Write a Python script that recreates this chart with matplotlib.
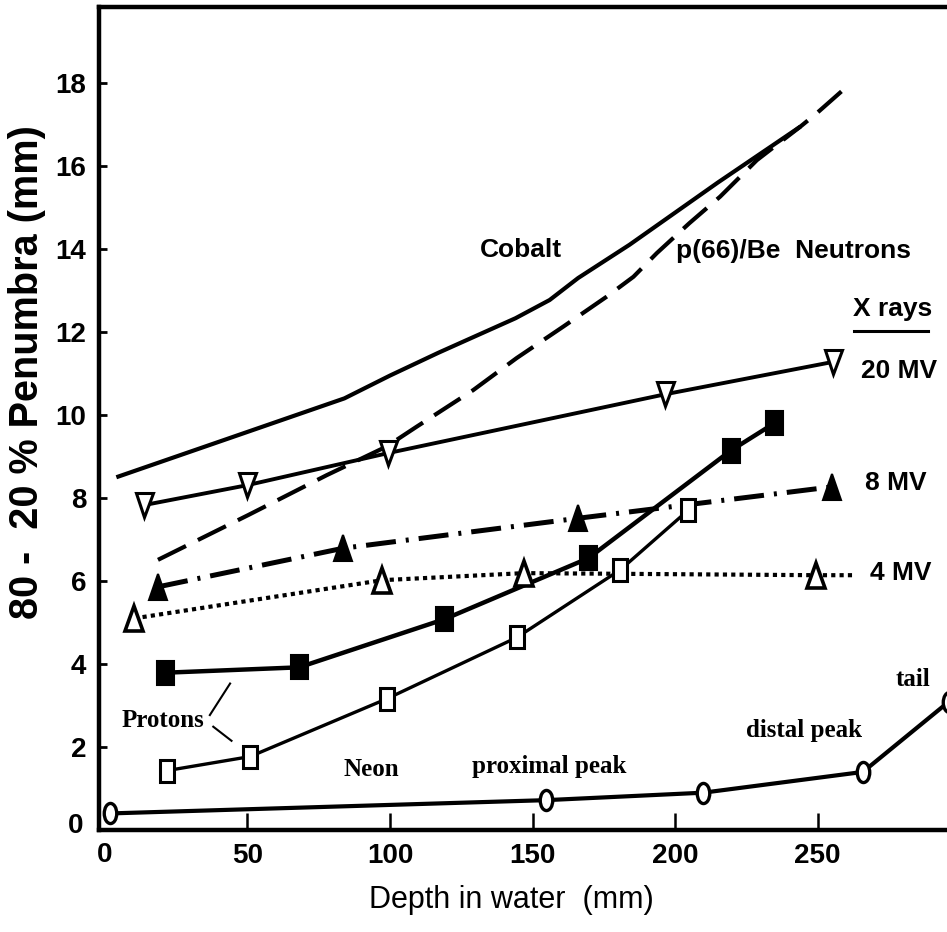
import numpy as np
import matplotlib
matplotlib.use("Agg")
import matplotlib.pyplot as plt
from matplotlib import font_manager
from matplotlib.markers import MarkerStyle
from matplotlib.transforms import Affine2D

# fonts: narrow sans if we have it, else regular
names = {f.name for f in font_manager.fontManager.ttflist}
SANS = 'Liberation Sans Narrow' if 'Liberation Sans Narrow' in names else 'Liberation Sans'
SERIF = 'Liberation Serif'

# ---- data (depth mm, penumbra mm) ----
cobalt_x = [4, 84, 100, 117, 130, 144, 156, 166, 184, 215, 244]
cobalt_y = [8.5, 10.4, 10.95, 11.5, 11.9, 12.33, 12.77, 13.3, 14.1, 15.6, 16.95]

neutron_x = [18.6, 50.3, 77.8, 98.8, 109.4, 129.2, 144.4, 160.8, 176, 185.4,
             193.6, 205, 215.8, 228.7, 244, 249.7, 259.6]
neutron_y = [6.51, 7.59, 8.55, 9.24, 9.72, 10.6, 11.37, 12.13, 12.85, 13.33,
             13.9, 14.62, 15.26, 16.14, 16.95, 17.27, 17.87]

mv20_x = [13.8, 50.0, 99.2, 196.6, 255.5]
mv20_y = [7.83, 8.31, 9.08, 10.5, 11.28]

mv8_x = [18.7, 83.6, 165.8, 255.2]
mv8_y = [5.86, 6.79, 7.51, 8.27]

mv4_x = [10.3, 97.3, 147.0, 249.5]
mv4_y = [5.10, 6.02, 6.19, 6.14]
mv4_line_end = (262.5, 6.14)   # dotted line runs past the last point

prot_a_x = [21.0, 68.1, 119.1, 169.6, 219.5, 234.8]
prot_a_y = [3.79, 3.92, 5.08, 6.55, 9.14, 9.80]

prot_b_x = [21.6, 50.9, 98.8, 144.5, 180.8, 204.7]
prot_b_y = [1.43, 1.77, 3.16, 4.64, 6.27, 7.71]

neon_x = [1.8, 154.7, 209.9, 265.9, 296.0]
neon_y = [0.40, 0.72, 0.90, 1.40, 3.09]

x_ticks = [50, 100, 150, 200, 250]
x_ticklabels = ['50', '100', '150', '200', '250']
y_ticks = [2, 4, 6, 8, 10, 12, 14, 16, 18]

fig = plt.figure(figsize=(9.47, 9.32), dpi=100)
ax = fig.add_axes([0.1045, 0.1094, 0.8955, 0.8831])
ax.set_xlim(-2.1, 295.4)
ax.set_ylim(0, 19.83)


def squish(m, sx):
    # the original scan is squeezed horizontally, so markers are narrow
    return MarkerStyle(m, transform=Affine2D().scale(sx, 1.0))


# curves without markers
ax.plot(cobalt_x, cobalt_y, color='black', lw=3.0, solid_capstyle='butt')
ax.plot(neutron_x, neutron_y, color='black', lw=3.0, linestyle=(0, (7.5, 3.2)))

# x-ray lines
ax.plot(mv20_x, mv20_y, color='black', lw=2.8, zorder=2)
ax.plot(mv20_x, mv20_y, linestyle='none', marker=squish('v', 0.72), ms=17,
        mfc='white', mec='black', mew=2.2, zorder=3)

ax.plot(mv8_x, mv8_y, color='black', lw=3.6, linestyle=(0, (6, 2, 0.6, 2)), zorder=2)
ax.plot(mv8_x, mv8_y, linestyle='none', marker=squish('^', 0.65), ms=19,
        mfc='black', mec='black', mew=1.5, zorder=3)

ax.plot(mv4_x + [mv4_line_end[0]], mv4_y + [mv4_line_end[1]], color='black', lw=3.0,
        linestyle=(0, (1, 1)), zorder=2)
ax.plot(mv4_x, mv4_y, linestyle='none', marker=squish('^', 0.72), ms=18,
        mfc='white', mec='black', mew=2.6, zorder=3)

# protons
ax.plot(prot_a_x, prot_a_y, color='black', lw=3.2, zorder=2)
ax.plot(prot_a_x, prot_a_y, linestyle='none', marker=squish('s', 0.72), ms=17,
        mfc='black', mec='black', mew=1.5, zorder=3)

ax.plot(prot_b_x, prot_b_y, color='black', lw=2.4, zorder=2)
ax.plot(prot_b_x, prot_b_y, linestyle='none', marker=squish('s', 0.62), ms=16.5,
        mfc='white', mec='black', mew=2.2, zorder=3)

# neon
ax.plot(neon_x, neon_y, color='black', lw=3.0, zorder=2)
ax.plot(neon_x, neon_y, linestyle='none', marker=squish('o', 0.62), ms=14.5,
        mfc='white', mec='black', mew=2.4, zorder=3)

# labels
sans_b = dict(family=SANS, weight='bold', fontsize=19, ha='center', va='center')
serif_b = dict(family=SERIF, weight='bold', fontsize=18, ha='center', va='center')

ax.text(146, 13.97, 'Cobalt', **sans_b)
ax.text(241.4, 13.95, 'p(66)/Be  Neutrons', **sans_b)
ax.text(276.5, 12.55, 'X rays', **sans_b)
ax.plot([262.8, 288.8], [12.02, 12.02], color='black', lw=2.2)
ax.text(278.6, 11.05, '20 MV', **sans_b)
ax.text(277.5, 8.35, '8 MV', **sans_b)
ax.text(279.3, 6.19, '4 MV', **sans_b)

ax.text(20.2, 2.65, 'Protons', **serif_b)
ax.plot([43.9, 36.8], [3.53, 2.77], color='black', lw=1.5)
ax.plot([38.0, 44.4], [2.49, 2.15], color='black', lw=1.5)
ax.text(93.6, 1.45, 'Neon', **serif_b)
ax.text(155.8, 1.52, 'proximal peak', **serif_b)
ax.text(245.3, 2.4, 'distal peak', **serif_b)
ax.text(283.3, 3.62, 'tail', **serif_b)

# axes styling
for side in ['left', 'top', 'bottom']:
    ax.spines[side].set_linewidth(3.2)
ax.spines['right'].set_visible(False)

ax.set_xticks(x_ticks)
ax.set_xticklabels(x_ticklabels)
ax.set_yticks(y_ticks)
ax.tick_params(axis='x', direction='in', length=12, width=1.8, pad=9)
ax.tick_params(axis='y', direction='in', length=6, width=2.0, pad=9)
for lab in ax.get_xticklabels() + ax.get_yticklabels():
    lab.set_family(SANS)
    lab.set_weight('bold')
    lab.set_fontsize(20)

# the 0 labels sit at the corner
ax.text(0, -0.3, '0', family=SANS, weight='bold', fontsize=20, ha='center', va='top',
        clip_on=False)
ax.text(-7.7, 0.1, '0', family=SANS, weight='bold', fontsize=20, ha='right', va='center',
        clip_on=False)

ax.set_xlabel('Depth in water  (mm)', family=SANS, fontsize=22)
ax.xaxis.set_label_coords(0.486, -0.067)
ax.set_ylabel('80 -  20 % Penumbra (mm)', family='Liberation Sans', weight='bold',
              fontsize=28.5)
ax.yaxis.set_label_coords(-0.063, 0.556)

fig.savefig('out.png', dpi=100)
